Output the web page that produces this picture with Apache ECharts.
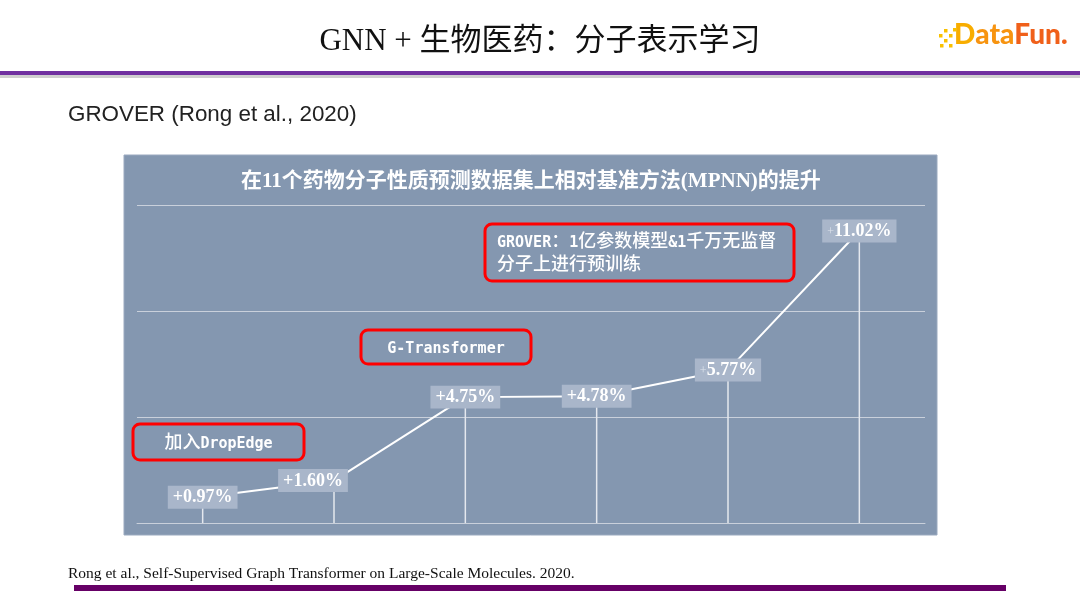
<!DOCTYPE html>
<html>
<head>
<meta charset="UTF-8">
<title>GROVER</title>
<script type="text/javascript" src="https://cdn.jsdelivr.net/npm/echarts@6/dist/echarts.min.js"></script>
<style>
  html, body { margin: 0; padding: 0; background: #fff; }
</style>
</head>
<body>
<div id="main" style="width:1080px;height:608px"></div>
<script type="text/javascript">
// 数据
var steps = ['1', '2', '3', '4', '5', '6'];
var gains = [0.97, 1.60, 4.75, 4.78, 5.77, 11.02];
var yMin = 0, yMax = 12, yStep = 4;

var cjk = '"Noto Sans CJK SC", sans-serif';
var mono = '"DejaVu Sans Mono", monospace';
var serif = '"Liberation Serif", "Noto Sans CJK SC", serif';

var myEcharts = echarts.init(document.getElementById('main'));

// 中文和西文分开排, 西文用等宽字体
function toRich(line) {
  var out = '';
  var re = /([\u3000-\u9fff\uff00-\uffef]+)|([^\u3000-\u9fff\uff00-\uffef]+)/g, m;
  while ((m = re.exec(line)) !== null) {
    out += m[1] ? '{c|' + m[1] + '}' : '{m|' + m[2] + '}';
  }
  return out;
}

// 红框注释
function noteBox(x, y, w, h, lines, align) {
  var left = align === 'left';
  return [{
    type: 'rect', z: 19,
    shape: { x: x, y: y, width: w, height: h, r: 7 },
    style: { fill: 'transparent', stroke: '#ff0000', lineWidth: 3 }
  }, {
    type: 'text', z: 20,
    style: {
      text: lines.map(toRich).join('\n'),
      x: left ? x + 12 : x + w / 2, y: y + h / 2 - 1,
      align: left ? 'left' : 'center', verticalAlign: 'middle',
      rich: {
        c: { fill: '#fff', font: '500 18px ' + cjk, lineHeight: 23 },
        m: { fill: '#fff', font: 'bold 15px ' + mono, lineHeight: 23, padding: [6, 0, 0, 0] }
      }
    }
  }];
}

var graphics = [
  // 面板
  { type: 'rect', z: 0, shape: { x: 124, y: 155, width: 813, height: 380 },
    style: { fill: '#8497b0', stroke: '#9aa9bf', lineWidth: 1 } },
  // 页眉紫线
  { type: 'rect', z: 0, shape: { x: 0, y: 75, width: 1080, height: 3 }, style: { fill: '#cfcfcf' } },
  { type: 'rect', z: 1, shape: { x: 0, y: 71, width: 1080, height: 4 }, style: { fill: '#7030a0' } },
  // 页脚紫线
  { type: 'rect', z: 0, shape: { x: 74, y: 585, width: 932, height: 6 }, style: { fill: '#660066' } },
  // 标题
  { type: 'text', z: 5, style: { text: 'GNN + 生物医药：分子表示学习', x: 540, y: 42,
      align: 'center', verticalAlign: 'middle', fill: '#111', font: '31px ' + serif } },
  { type: 'text', z: 5, style: { text: 'GROVER (Rong et al., 2020)', x: 68, y: 115,
      verticalAlign: 'middle', fill: '#222', font: '22.4px "Liberation Sans", Arial, sans-serif' } },
  { type: 'text', z: 5, style: { text: 'Rong et al., Self-Supervised Graph Transformer on Large-Scale Molecules. 2020.',
      x: 68, y: 574, verticalAlign: 'middle', fill: '#111', font: '15.5px ' + serif } },
  // logo
  { type: 'text', z: 5, style: { text: '{a|D}{b|ata}{c|Fun.}', x: 954, y: 35, verticalAlign: 'middle',
      rich: {
        a: { fill: '#f8ad00', font: '900 28px Lato, sans-serif' },
        b: { fill: '#f79410', font: '900 28px Lato, sans-serif' },
        c: { fill: '#f0601a', font: '900 28px Lato, sans-serif' }
      } } }
];

// logo 小方块
[[939, 34], [944, 29], [944, 39], [949, 34], [949, 44], [940, 44], [953, 28]].forEach(function (p) {
  graphics.push({ type: 'rect', z: 5, shape: { x: p[0], y: p[1], width: 3.5, height: 3.5 },
    style: { fill: '#f9c000' } });
});

graphics = graphics
  .concat(noteBox(133, 424, 171, 36, ['加入DropEdge'], 'center'))
  .concat(noteBox(361, 330, 170, 34, ['G-Transformer'], 'center'))
  .concat(noteBox(485, 224, 309, 57, ['GROVER：1亿参数模型&1千万无监督', '分子上进行预训练'], 'left'));

var option = {
  backgroundColor: '#ffffff',
  animation: false,
  title: {
    text: '在11个药物分子性质预测数据集上相对基准方法(MPNN)的提升',
    left: 236, top: 166,
    textStyle: { color: '#fff', fontSize: 21, fontWeight: 'bold', fontFamily: serif }
  },
  grid: { left: 137, right: 155, top: 205, bottom: 85 },
  xAxis: {
    type: 'category', data: steps, boundaryGap: true,
    axisLine: { show: true, lineStyle: { color: '#c9d0db', width: 1 } },
    axisTick: { show: false }, axisLabel: { show: false }, z: 2
  },
  yAxis: {
    type: 'value', min: yMin, max: yMax, interval: yStep,
    axisLine: { show: false }, axisTick: { show: false }, axisLabel: { show: false },
    splitLine: { lineStyle: { color: '#c9d0db', width: 1 } }, z: 2
  },
  graphic: graphics,
  series: [
    {
      name: 'drop', type: 'bar', data: gains, barWidth: 1.5, z: 3,
      itemStyle: { color: '#e4e8ee' }, silent: true
    },
    {
      name: 'gain', type: 'line', z: 4,
      // 第二个标签在原图中向左偏
      data: gains.map(function (v, i) {
        return i === 1 ? { value: v, label: { offset: [-21, 0] } } : v;
      }),
      symbol: 'circle', symbolSize: 1,
      itemStyle: { color: '#ffffff' },
      lineStyle: { color: '#ffffff', width: 2 },
      label: {
        show: true, position: 'inside',
        backgroundColor: '#a9b6ca', padding: [3, 5, 2, 5],
        formatter: function (p) {
          var v = p.value.toFixed(2) + '%';
          return p.dataIndex >= 4 ? '{s|+}{b|' + v + '}' : '{b|+' + v + '}';
        },
        rich: {
          b: { color: '#fff', fontSize: 18, fontWeight: 'bold', fontFamily: serif },
          s: { color: '#dde3ec', fontSize: 12, fontFamily: serif }
        }
      }
    }
  ]
};

myEcharts.setOption(option);
</script>
</body>
</html>
